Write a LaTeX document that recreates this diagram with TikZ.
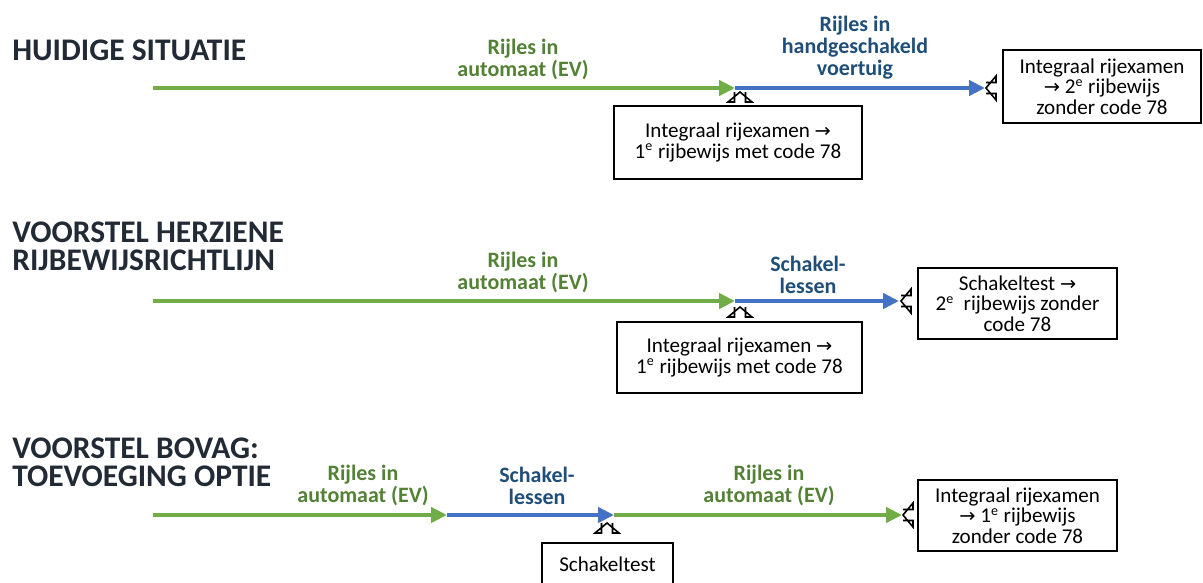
\documentclass[tikz,border=0pt]{standalone}
\usepackage{fontspec}
\setmainfont{Carlito}
\newfontfamily\arrowfont{DejaVu Sans}
\usetikzlibrary{arrows.meta, calc}
\definecolor{evgreen}{HTML}{70AD47}
\definecolor{handblue}{HTML}{4472C4}
\definecolor{evtext}{HTML}{538135}
\definecolor{handtext}{HTML}{1F4E79}
\definecolor{titlegray}{HTML}{222A35}
\newcommand\pijl{{\arrowfont\fontsize{11}{11}\selectfont →}}
\tikzset{
        x=0.02cm, y=-0.02cm, % one unit is one pixel of the slide
        route/.style={line width=2.8pt, -{Triangle[length=9pt, width=8.5pt]}},
        evroute/.style={route, draw=evgreen}, % lessons in an automatic car
        handroute/.style={route, draw=handblue}, % lessons with a gearbox
        title/.style={anchor=west, align=left, inner sep=0pt, text=titlegray, font=\fontsize{17.9}{16}\selectfont\bfseries},
        evlabel/.style={align=center, text=evtext, font=\fontsize{12.5}{12.5}\selectfont\bfseries},
        handlabel/.style={evlabel, text=handtext},
        result/.style={draw, line width=0.9pt, outer sep=0pt, inner sep=0pt, align=center, fill=white,
                       font=\fontsize{12}{11.8}\selectfont},
        callout/.style={line width=0.9pt, line join=miter},
    }
% open pointer from the top of a box up to a line
\newcommand\pointup[2]{%
  \draw[white, line width=2pt] ($(#1)+(-4.5,0)$ |- #2.north) -- ($(#1)+(4.5,0)$ |- #2.north);
  \draw[callout] ($(#1)+(-5.5,0)$ |- #2.north) -- ($(#1)+(-5.5,10)$) -- ($(#1)+(-12,10)$) -- (#1)
        -- ($(#1)+(12,10)$) -- ($(#1)+(5.5,10)$) -- ($(#1)+(5.5,0)$ |- #2.north);
}
% open pointer from the left side of a box to the end of a line
\newcommand\pointleft[2]{%
  \draw[white, line width=2pt] ($(#1)+(0,-4.5)$ -| #2.west) -- ($(#1)+(0,4.5)$ -| #2.west);
  \draw[callout] ($(#1)+(0,-5.5)$ -| #2.west) -- ($(#1)+(10,-5.5)$) -- ($(#1)+(10,-12)$) -- (#1)
        -- ($(#1)+(10,12)$) -- ($(#1)+(10,5.5)$) -- ($(#1)+(0,5.5)$ -| #2.west);
}
\begin{document}
\begin{tikzpicture}
    \useasboundingbox (0,0) rectangle (1203,582);
    % huidige situatie
    \node[title] (t1) at (12,50) {HUIDIGE SITUATIE};
    \coordinate (a1) at (153,88);
    \coordinate (b1) at (735,88);
    \coordinate (c1) at (985,88);
    \draw[evroute] (a1) -- (b1);
    \draw[handroute] (b1) -- (c1);
    \node[evlabel] (ev1) at (523,59) {Rijles in\\automaat (EV)};
    \node[handlabel] (hand1) at (855,48) {Rijles in\\handgeschakeld\\voertuig};
    \node[result, minimum width=4.96cm, minimum height=1.46cm] (exam1) at (738,142.5)
        {Integraal rijexamen \pijl\\1\textsuperscript{e} rijbewijs met code 78};
    \node[result, minimum width=3.96cm, minimum height=1.46cm] (rb1) at (1102,86.5)
        {Integraal rijexamen\\\pijl\ 2\textsuperscript{e} rijbewijs\\zonder code 78};
    \coordinate (p1) at (740,92);
    \coordinate (q1) at (986,88);
    \pointup{p1}{exam1}
    \pointleft{q1}{rb1}

    % voorstel herziene rijbewijsrichtlijn
    \node[title] (t2) at (12,246) {VOORSTEL HERZIENE\\RIJBEWIJSRICHTLIJN};
    \coordinate (a2) at (153,301);
    \coordinate (b2) at (735,301);
    \coordinate (c2) at (899,301);
    \draw[evroute] (a2) -- (b2);
    \draw[handroute] (b2) -- (c2);
    \node[evlabel] (ev2) at (523,272) {Rijles in\\automaat (EV)};
    \node[handlabel] (hand2) at (808,274.5) {Schakel-\\lessen};
    \node[result, minimum width=4.9cm, minimum height=1.42cm] (exam2) at (739.5,357.5)
        {Integraal rijexamen \pijl\\1\textsuperscript{e} rijbewijs met code 78};
    \node[result, minimum width=3.98cm, minimum height=1.42cm] (rb2) at (1017.5,303.5)
        {Schakeltest \pijl\\2\textsuperscript{e}\ \ rijbewijs zonder\\code 78};
    \coordinate (p2) at (740,307);
    \coordinate (q2) at (901,301);
    \pointup{p2}{exam2}
    \pointleft{q2}{rb2}

    % voorstel bovag
    \node[title] (t3) at (12,462) {VOORSTEL BOVAG:\\TOEVOEGING OPTIE};
    \coordinate (a3) at (153,515);
    \coordinate (b3) at (447,515);
    \coordinate (c3) at (614,515);
    \coordinate (d3) at (902,515);
    \draw[evroute] (a3) -- (b3);
    \draw[handroute] (b3) -- (c3);
    \draw[evroute] (c3) -- (d3);
    \node[evlabel] (ev3) at (363,485) {Rijles in\\automaat (EV)};
    \node[handlabel] (hand3) at (537,486) {Schakel-\\lessen};
    \node[evlabel] (ev4) at (769,485) {Rijles in\\automaat (EV)};
    \node[result, minimum width=2.62cm, minimum height=0.84cm] (test3) at (607.5,564) {Schakeltest};
    \node[result, minimum width=3.98cm, minimum height=1.42cm] (rb3) at (1017.5,515.5)
        {Integraal rijexamen\\\pijl\ 1\textsuperscript{e} rijbewijs\\zonder code 78};
    \coordinate (p3) at (607,523);
    \coordinate (q3) at (903,515);
    \pointup{p3}{test3}
    \pointleft{q3}{rb3}
\end{tikzpicture}
\end{document}
